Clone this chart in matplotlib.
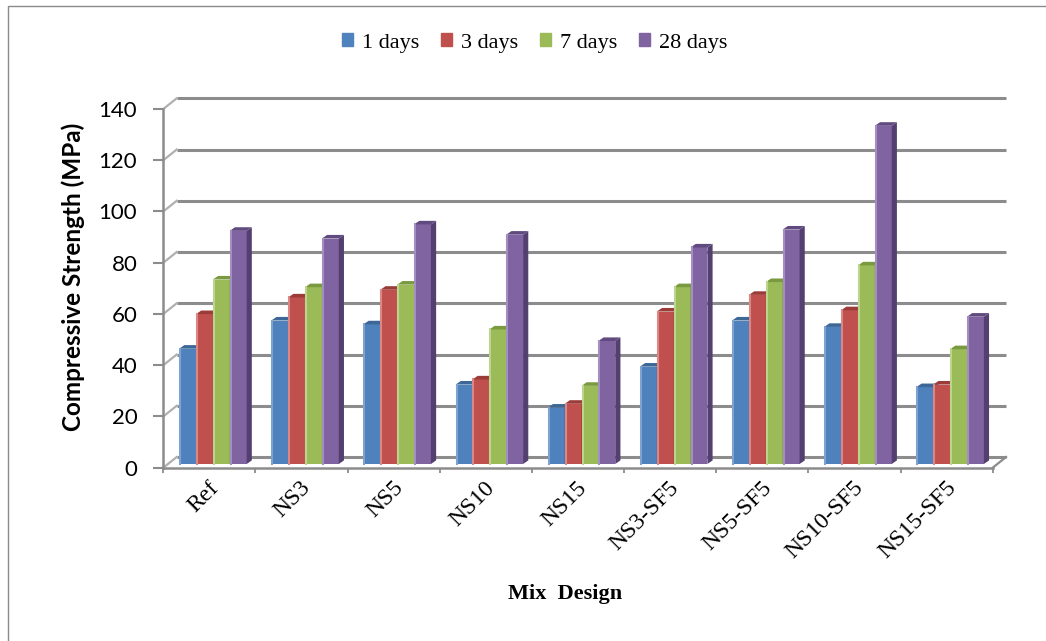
import matplotlib
matplotlib.use('Agg')
import matplotlib.pyplot as plt
import matplotlib.transforms as mtransforms
from matplotlib.patches import Polygon, Rectangle, Patch

# Compressive strength (MPa) of each mix at each curing age
mixes = ['Ref', 'NS3', 'NS5', 'NS10', 'NS15', 'NS3-SF5', 'NS5-SF5', 'NS10-SF5', 'NS15-SF5']
ages = ['1 days', '3 days', '7 days', '28 days']
day1 = [45, 56, 54.5, 31, 22, 38, 56, 53.5, 30]
day3 = [58.5, 65, 68, 33, 23.5, 59.5, 66, 60, 31]
day7 = [72, 69, 70, 52.5, 30.5, 69, 71, 77.5, 44.8]
day28 = [91, 88, 93.5, 89.5, 48, 84.5, 91.5, 132, 57.5]
y_ticks = [0, 20, 40, 60, 80, 100, 120, 140]

series = [day1, day3, day7, day28]
face_cols = ['#4F81BD', '#C0504D', '#9BBB59', '#8064A2']
top_cols = ['#3D6797', '#9B3C39', '#7A9A40', '#614A80']
side_cols = ['#345A85', '#87332F', '#6A8737', '#534070']
edge_cols = ['#7FA3D0', '#D98886', '#BCD48E', '#A58FC2']
grey = '#8C8C8C'

W, H = 1046, 641
fig = plt.figure(figsize=(W / 100, H / 100), dpi=100)
ax = fig.add_axes([163.3 / W, 173.3 / H, 829.4 / W, 358.7 / H])
ax.set_xlim(0, len(mixes))
ax.set_ylim(0, 140)
ax.patch.set_alpha(0)

# pixel offsets for the fake 3D depth: back wall, bar plane, bar thickness
back_off = (13.4, 10.7)
bar_off = (4.8, 3.7)
depth = (5.2, 3.6)
back_tr = ax.transData + mtransforms.Affine2D().translate(*back_off)
bar_tr = ax.transData + mtransforms.Affine2D().translate(*bar_off)
ident = mtransforms.IdentityTransform()


def px(x, y, off=(0, 0)):
    X, Y = ax.transData.transform((x, y))
    return X + off[0], Y + off[1]


# back wall gridlines and the short wall edges on the left
for v in y_ticks:
    ax.plot([0, len(mixes)], [v, v], transform=back_tr, color=grey, lw=2.2,
            clip_on=False, zorder=1, solid_capstyle='butt')
    x0, y0 = px(0, v)
    x1, y1 = px(0, v, back_off)
    ax.plot([x0, x1], [y0, y1], transform=ident, color='#B0B0B0', lw=1.6,
            clip_on=False, zorder=1)

# right edge of the floor
x0, y0 = px(len(mixes), 0)
x1, y1 = px(len(mixes), 0, back_off)
ax.plot([x0, x1], [y0, y1], transform=ident, color=grey, lw=1.6, clip_on=False, zorder=1)

# bars with top and side faces
bw = 0.183
for j, vals in enumerate(series):
    lefts = [i + 0.12 + j * bw for i in range(len(mixes))]
    bars = ax.bar(lefts, vals, width=bw, align='edge', color=face_cols[j],
                  zorder=3 + j * 0.1, linewidth=0)
    for rect, left, v in zip(bars, lefts, vals):
        rect.set_transform(bar_tr)
        rect.set_clip_on(False)
        bl = px(left, 0, bar_off)
        tl = px(left, v, bar_off)
        tr = px(left + bw, v, bar_off)
        br = px(left + bw, 0, bar_off)
        top = [tl, tr, (tr[0] + depth[0], tr[1] + depth[1]), (tl[0] + depth[0], tl[1] + depth[1])]
        side = [br, tr, (tr[0] + depth[0], tr[1] + depth[1]), (br[0] + depth[0], br[1] + depth[1])]
        ax.add_patch(Polygon(side, closed=True, transform=ident, facecolor=side_cols[j],
                             lw=0, clip_on=False, zorder=3 + j * 0.1 + 0.01))
        ax.add_patch(Polygon(top, closed=True, transform=ident, facecolor=top_cols[j],
                             lw=0, clip_on=False, zorder=3 + j * 0.1 + 0.02))
        ax.plot([bl[0] + 1, tl[0] + 1], [bl[1], tl[1]], transform=ident,
                color=edge_cols[j], lw=1.5, clip_on=False, zorder=3 + j * 0.1 + 0.03)

# front axes
for s in ['top', 'right']:
    ax.spines[s].set_visible(False)
for s in ['left', 'bottom']:
    ax.spines[s].set_color(grey)
    ax.spines[s].set_linewidth(1.8)
ax.set_yticks(y_ticks)
ax.tick_params(axis='y', length=7.2, width=1.5, color=grey, pad=11.5,
               labelsize=16, labelcolor='black')
for lab in ax.get_yticklabels():
    lab.set_family('Lato')
ax.set_xticks(range(len(mixes) + 1))
ax.set_xticklabels([])
ax.tick_params(axis='x', length=3.6, width=1.3, color=grey)

lab_tr = ax.transData + mtransforms.Affine2D().translate(6, -17)
for i, name in enumerate(mixes):
    ax.text(i + 0.5, 0, name, transform=lab_tr, rotation=45, ha='right', va='center',
            rotation_mode='anchor', fontsize=17, family='Liberation Serif')

fig.text(73 / W, 1 - 277 / H, 'Compressive Strength (MPa)', rotation=90, ha='center',
         va='center', fontsize=17.5, fontweight='bold', family='Lato')
fig.text(565 / W, 1 - 594 / H, 'Mix  Design', ha='center', va='center', fontsize=16,
         fontweight='bold', family='Liberation Serif')

handles = [Patch(color=c) for c in face_cols]
fig.legend(handles, ages, loc='center', bbox_to_anchor=(535 / W, 1 - 43 / H), ncol=4,
           frameon=False, prop={'family': 'Liberation Serif', 'size': 16},
           handlelength=0.5, handleheight=0.5, handletextpad=0.4, columnspacing=0.98)

# chart area border
fig.add_artist(Rectangle((7.5 / W, -0.05), 1.1, 1.05 - 6 / H, transform=fig.transFigure,
                         fill=False, edgecolor='#8A8A8A', lw=1.0, clip_on=False))

fig.savefig('out.png', dpi=100)
